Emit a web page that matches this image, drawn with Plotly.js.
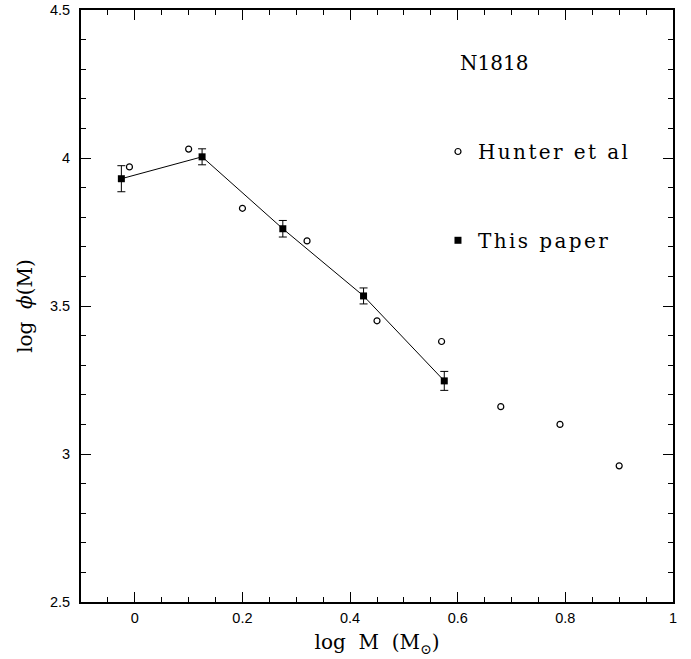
<!DOCTYPE html>
<html>
<head>
<meta charset="utf-8">
<script src="https://cdn.plot.ly/plotly-3.0.1.min.js"></script>
<style>
html,body{margin:0;padding:0;background:#fff;}
#chart{width:691px;height:659px;}
#chart .infolayer g[class^="legend"] text{letter-spacing:2.4px;}
#chart .infolayer g[class^="legend"] .scrollbox{clip-path:none !important;}
</style>
</head>
<body>
<div id="chart"></div>
<script>
// Hunter et al (open circles)
const hunterLogM   = [-0.01, 0.10, 0.20, 0.32, 0.45, 0.57, 0.68, 0.79, 0.90];
const hunterLogPhi = [3.97, 4.03, 3.83, 3.72, 3.45, 3.38, 3.16, 3.10, 2.96];
// This paper (filled squares with error bars)
const paperLogM   = [-0.025, 0.125, 0.275, 0.425, 0.575];
const paperLogPhi = [3.930, 4.004, 3.761, 3.534, 3.247];
const paperErr    = [0.044, 0.027, 0.028, 0.027, 0.032];

const serif = 'DejaVu Serif, Liberation Serif, serif';
const sans = 'Liberation Sans, Arial, sans-serif';

const traces = [
  {
    x: paperLogM, y: paperLogPhi, type: 'scatter', mode: 'lines',
    line: {color: '#000', width: 1}, showlegend: false, hoverinfo: 'skip'
  },
  {
    x: hunterLogM, y: hunterLogPhi, type: 'scatter', mode: 'markers',
    name: 'Hunter et al', legend: 'legend',
    marker: {symbol: 'circle-open', size: 6, color: '#000', line: {width: 1.2, color: '#000'}}
  },
  {
    x: paperLogM, y: paperLogPhi, type: 'scatter', mode: 'markers',
    name: 'This paper', legend: 'legend2',
    marker: {symbol: 'square', size: 7, color: '#000'},
    error_y: {type: 'data', array: paperErr, visible: true, color: '#000', thickness: 1, width: 4}
  }
];

const axisCommon = {
  showline: true, linecolor: '#000', linewidth: 2, mirror: 'allticks',
  ticks: 'inside', ticklen: 10, tickwidth: 1, tickcolor: '#000',
  showgrid: false, zeroline: false,
  tickfont: {family: sans, size: 14.5, color: '#000'}
};

const layout = {
  width: 691, height: 659,
  margin: {l: 81, r: 18, t: 10, b: 57},
  paper_bgcolor: '#fff', plot_bgcolor: '#fff',
  xaxis: Object.assign({}, axisCommon, {
    range: [-0.1, 1], tick0: 0, dtick: 0.2,
    ticklabelstandoff: 2,
    minor: {dtick: 0.05, ticks: 'inside', ticklen: 5, tickwidth: 1, tickcolor: '#000', showgrid: false},
    title: {text: 'log  M  (M<sub>⊙</sub>)', font: {family: serif, size: 20, color: '#000'}, standoff: 10}
  }),
  yaxis: Object.assign({}, axisCommon, {
    range: [2.5, 4.5], tick0: 2.5, dtick: 0.5,
    ticklabelstandoff: 6,
    minor: {dtick: 0.1, ticks: 'inside', ticklen: 5, tickwidth: 1, tickcolor: '#000', showgrid: false},
    title: {text: 'log  <i>ϕ</i>(M)', font: {family: serif, size: 20, color: '#000'}, standoff: 12}
  }),
  legend: {
    x: 0.603, y: 0.761, xanchor: 'left', yanchor: 'middle',
    bgcolor: 'rgba(0,0,0,0)', borderwidth: 0,
    font: {family: serif, size: 20, color: '#000'}
  },
  legend2: {
    x: 0.603, y: 0.611, xanchor: 'left', yanchor: 'middle',
    bgcolor: 'rgba(0,0,0,0)', borderwidth: 0,
    font: {family: serif, size: 20, color: '#000'}
  },
  annotations: [
    {text: 'N1818', xref: 'paper', yref: 'paper', x: 0.698, y: 0.911,
     xanchor: 'center', yanchor: 'middle', showarrow: false,
     font: {family: serif, size: 20, color: '#000'}}
  ]
};

Plotly.newPlot('chart', traces, layout, {displayModeBar: false, staticPlot: true});
</script>
</body>
</html>
